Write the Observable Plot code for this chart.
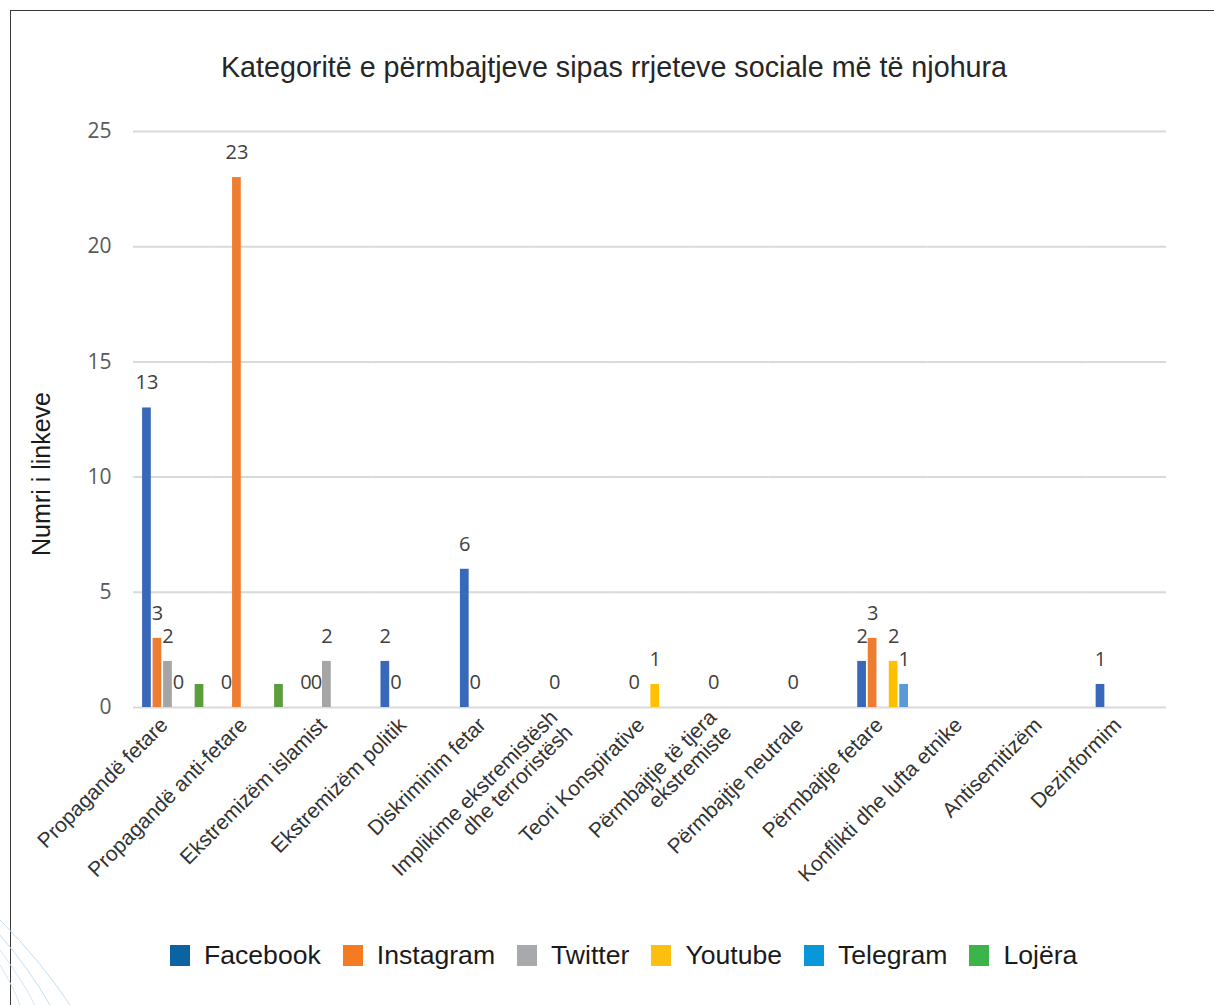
<!DOCTYPE html>
<html>
<head>
<meta charset="utf-8">
<script src="https://cdn.jsdelivr.net/npm/d3@7"></script>
<script src="https://cdn.jsdelivr.net/npm/@observablehq/plot@0.6"></script>
<style>
  html, body { margin: 0; padding: 0; background: #fff; }
  body { width: 1214px; height: 1005px; overflow: hidden; position: relative; font-family: "Liberation Sans", Arial, sans-serif; }
  #frame { position: absolute; left: 10px; top: 10px; width: 1220px; height: 1010px; border-left: 1.5px solid #3a3a3a; border-top: 1.5px solid #3a3a3a; }
  #title { position: absolute; top: 49px; left: 0; width: 1228px; text-align: center; font-size: 28.7px; line-height: 36px; color: #262626; }
  #ylabel { position: absolute; left: 41px; top: 474px; transform: translate(-50%, -50%) rotate(-90deg); white-space: nowrap; font-size: 25px; color: #1a1a1a; }
  #chart { position: absolute; left: 0; top: 110px; }
  #legend { position: absolute; left: 170px; top: 938px; display: flex; align-items: center; gap: 22px; font-size: 26.6px; line-height: 34px; color: #1a1a1a; }
  .item { display: flex; align-items: center; }
  .sw { width: 20px; height: 21px; margin-right: 14px; }
  #deco { position: absolute; left: 0; top: 900px; }
</style>
</head>
<body>
<div id="frame"></div>
<svg id="deco" width="120" height="105">
  <path d="M0,20 Q40,60 70,105" fill="none" stroke="#c5ddee" stroke-width="1"/>
  <path d="M0,35 Q30,70 50,105" fill="none" stroke="#c5ddee" stroke-width="1"/>
  <path d="M0,50 Q22,80 35,105" fill="none" stroke="#d3e6f2" stroke-width="1"/>
  <path d="M0,65 Q14,88 20,105" fill="none" stroke="#d3e6f2" stroke-width="1"/>
</svg>
<div id="title">Kategoritë e përmbajtjeve sipas rrjeteve sociale më të njohura</div>
<div id="ylabel">Numri i linkeve</div>
<div id="chart"></div>
<div id="legend"></div>
<script>
// ---- data ----
const categories = [
  "Propagandë fetare",
  "Propagandë anti-fetare",
  "Ekstremizëm islamist",
  "Ekstremizëm politik",
  "Diskriminim fetar",
  "Implikime ekstremistësh dhe terroristësh",
  "Teori Konspirative",
  "Përmbajtje të tjera ekstremiste",
  "Përmbajtje neutrale",
  "Përmbajtje fetare",
  "Konflikti dhe lufta etnike",
  "Antisemitizëm",
  "Dezinformim"
];
const categoryLabels = [
  "Propagandë fetare",
  "Propagandë anti-fetare",
  "Ekstremizëm islamist",
  "Ekstremizëm politik",
  "Diskriminim fetar",
  "Implikime ekstremistësh\ndhe terroristësh",
  "Teori Konspirative",
  "Përmbajtje të tjera\nekstremiste",
  "Përmbajtje neutrale",
  "Përmbajtje fetare",
  "Konflikti dhe lufta etnike",
  "Antisemitizëm",
  "Dezinformim"
];
const series = ["Facebook", "Instagram", "Twitter", "Youtube", "Telegram", "Lojëra"];
const facebook  = [13, 0, 0, 2, 6, null, null, null, null, 2, null, null, 1];
const instagram = [3, 23, 0, 0, 0, 0, 0, 0, 0, 3, null, null, null];
const twitter   = [2, null, 2, null, null, null, null, null, null, null, null, null, null];
const youtube   = [0, null, null, null, null, null, 1, null, null, 2, null, null, null];
const telegram  = [null, null, null, null, null, null, null, null, null, 1, null, null, null];
const lojera    = [1, 1, null, null, null, null, null, null, null, null, null, null, null];
const labelledSeries = ["Facebook", "Instagram", "Twitter", "Youtube", "Telegram"]; // Lojëra bars carry no labels
const yTicks = [0, 5, 10, 15, 20, 25];

const barColors = ["#3868B9", "#ED7D31", "#A5A5A5", "#FFC000", "#5B9BD5", "#5C9D3E"];
const legendColors = ["#0A64A4", "#F47B20", "#A7A9AC", "#FDC010", "#0897D8", "#3BB44A"];

// ---- table ----
const valuesBySeries = [facebook, instagram, twitter, youtube, telegram, lojera];
const rows = [];
series.forEach((s, si) => {
  valuesBySeries[si].forEach((v, ci) => {
    if (v !== null) rows.push({category: categories[ci], series: s, value: v});
  });
});
const labelRows = rows.filter(d => labelledSeries.includes(d.series));
const labelOf = new Map(categories.map((c, i) => [c, categoryLabels[i]]));
// one gridline per category and tick, so every facet (even empty ones) is drawn
const gridRows = categories.flatMap(c => yTicks.map(t => ({category: c, tick: t})));

const chart = Plot.plot({
  width: 1214,
  height: 787,
  marginLeft: 133,
  marginRight: 48,
  marginTop: 21,
  marginBottom: 190,
  style: {background: "transparent", overflow: "visible"},
  fx: {domain: categories, padding: 0, round: false, label: null},
  x: {domain: series, paddingInner: 0.17, paddingOuter: 0.865, round: false, axis: null},
  y: {domain: [0, 25], label: null},
  color: {domain: series, range: barColors},
  marks: [
    Plot.ruleY(gridRows, {fx: "category", y: "tick", stroke: "#d9d9d9", strokeWidth: 2}),
    Plot.axisY(yTicks, {tickSize: 0, tickPadding: 22, fontSize: 21, fontFamily: "Open Sans", color: "#595959", label: null}),
    Plot.axisFx({anchor: "bottom", tickRotate: -45, tickSize: 0, tickPadding: 14, dx: -9, fontSize: 21, fontFamily: "Liberation Sans", color: "#333333", label: null, tickFormat: c => labelOf.get(c)}),
    Plot.barY(rows, {fx: "category", x: "series", y: "value", fill: "series"}),
    Plot.text(labelRows, {fx: "category", x: "series", y: "value", text: d => String(d.value), dy: -25, fontSize: 20, fontFamily: "Open Sans", fill: "#404040"})
  ]
});
document.getElementById("chart").appendChild(chart);

// ---- legend ----
const legend = document.getElementById("legend");
series.forEach((s, i) => {
  const it = document.createElement("div");
  it.className = "item";
  const sw = document.createElement("div");
  sw.className = "sw";
  sw.style.background = legendColors[i];
  const t = document.createElement("span");
  t.textContent = s;
  it.appendChild(sw);
  it.appendChild(t);
  legend.appendChild(it);
});
</script>
</body>
</html>
